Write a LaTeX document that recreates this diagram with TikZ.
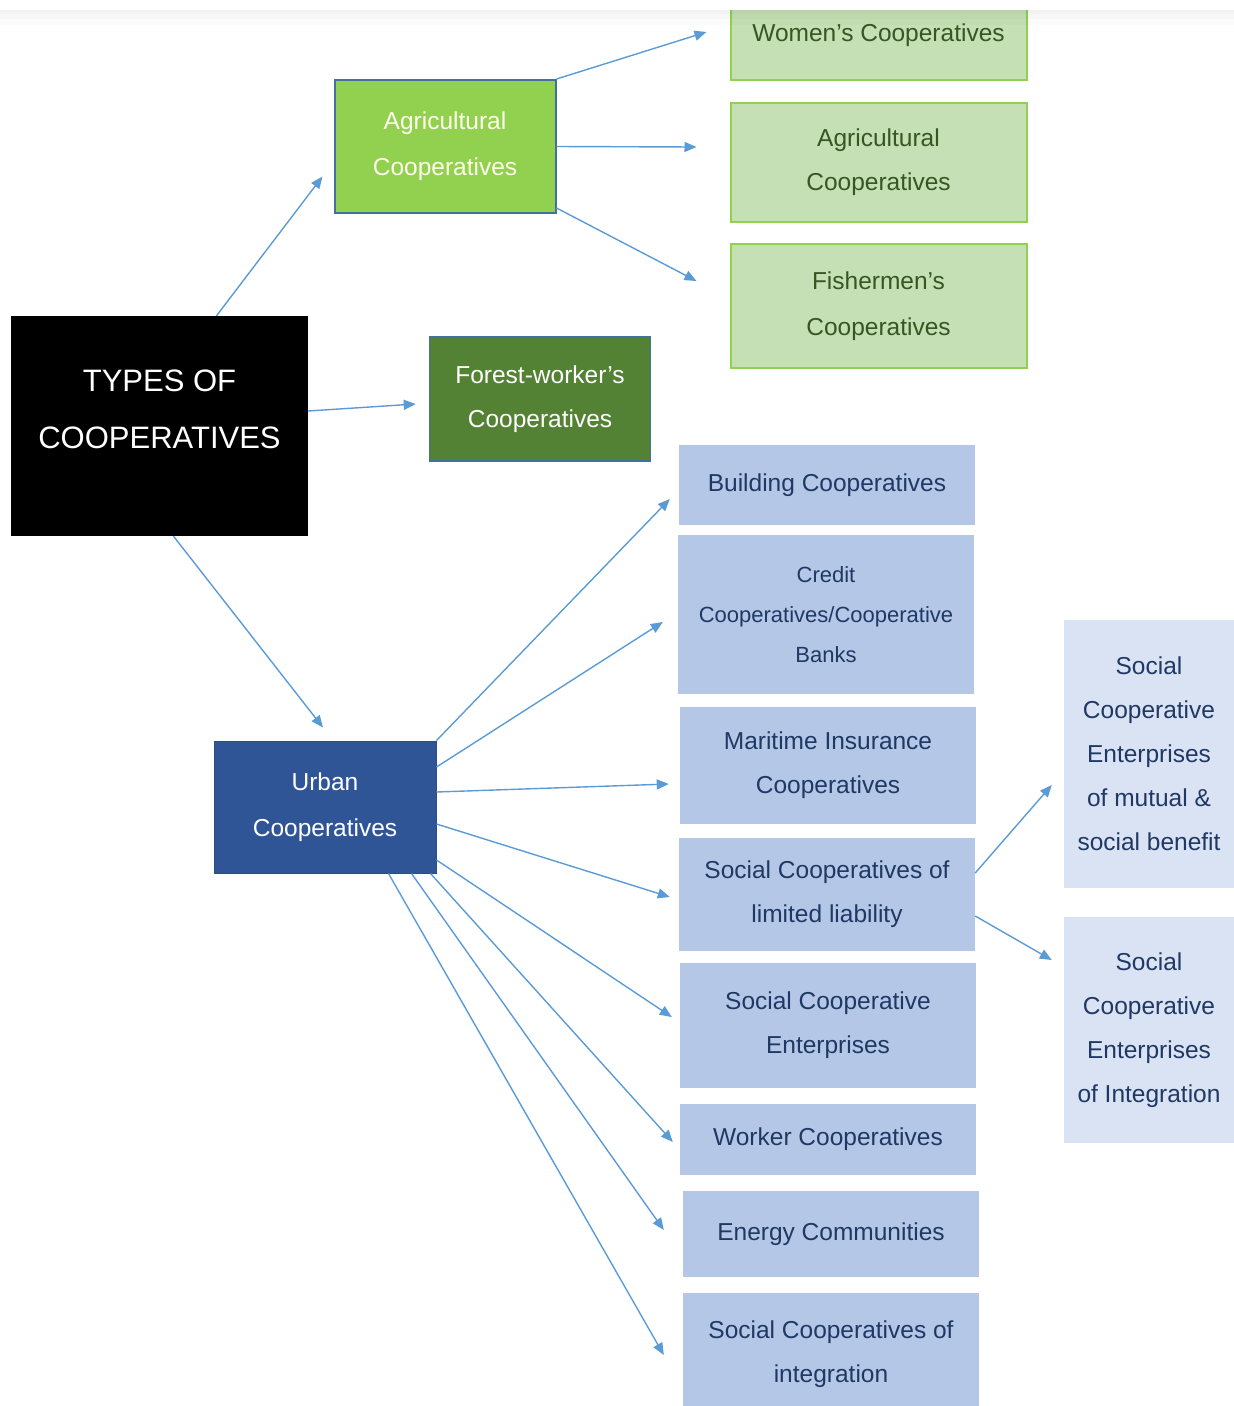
\documentclass[tikz,border=0pt]{standalone}
\usepackage{fontspec}
\setmainfont{Liberation Sans}
\usepackage{xcolor}
\usepackage{tikz}
\usetikzlibrary{arrows.meta}

\definecolor{agrigreen}{HTML}{92D050}
\definecolor{forestgreen}{HTML}{548235}
\definecolor{palegreen}{HTML}{C5E0B4}
\definecolor{greentext}{HTML}{375623}
\definecolor{frameblue}{HTML}{41719C}
\definecolor{urbanblue}{HTML}{2F5597}
\definecolor{subblue}{HTML}{B4C7E7}
\definecolor{paleblue}{HTML}{DAE3F3}
\definecolor{navytext}{HTML}{1F3864}
\definecolor{arrowblue}{HTML}{5B9BD5}

\begin{document}
\begin{tikzpicture}[
  x=1pt, y=-1pt,
  typesbox/.style={
    rectangle,
    fill=black,
    inner sep=0pt,
    minimum width=297pt,
    minimum height=220pt
  },
  typestext/.style={
    align=center,
    text=white,
    font=\fontsize{31}{57}\selectfont
  },
  agribox/.style={
    rectangle,
    fill=agrigreen,
    draw=frameblue,
    line width=2pt,
    text=white!92!yellow,
    align=center,
    inner sep=0pt,
    minimum width=221pt,
    minimum height=133pt,
    font=\fontsize{24.5}{46}\selectfont
  },
  forestbox/.style={
    rectangle,
    fill=forestgreen,
    draw=frameblue,
    line width=1.5pt,
    text=white,
    align=center,
    inner sep=0pt,
    minimum width=221pt,
    minimum height=124pt,
    font=\fontsize{24.5}{44}\selectfont
  },
  greenbox/.style={
    rectangle,
    fill=palegreen,
    draw=agrigreen,
    line width=2pt,
    text=greentext,
    align=center,
    inner sep=0pt,
    minimum width=296pt,
    font=\fontsize{24.5}{44}\selectfont
  },
  urbanbox/.style={
    rectangle,
    fill=urbanblue,
    draw=urbanblue!90!black,
    line width=1pt,
    text=white,
    align=center,
    inner sep=0pt,
    minimum width=222pt,
    minimum height=132pt,
    font=\fontsize{24.5}{46}\selectfont
  },
  bluebox/.style={
    rectangle,
    fill=subblue,
    text=navytext,
    align=center,
    inner sep=0pt,
    minimum width=296pt,
    font=\fontsize{24.5}{44}\selectfont
  },
  palebox/.style={
    rectangle,
    fill=paleblue,
    text=navytext,
    align=center,
    inner sep=0pt,
    minimum width=170pt,
    font=\fontsize{24.5}{44}\selectfont
  },
  arrow/.style={
    -{Triangle[length=12pt, width=10pt]},
    draw=arrowblue,
    line width=1.4pt
  }
]

\useasboundingbox (0,0) rectangle (1234,1406);
\clip (0,0) rectangle (1234,1406);

% =========================================================
% Root and first level
% =========================================================
\node[typesbox] (types) at (159.5,426) {};
\node[typestext] at ([yshift=17pt]types.center) {TYPES OF\\COOPERATIVES};

\node[agribox] (agri) at (445,146.5) {Agricultural\\Cooperatives};

\node[forestbox] (forest) at (540,399) {Forest-worker's\\Cooperatives};

\node[urbanbox] (urban) at (325,807) {Urban\\Cooperatives};

% =========================================================
% Agricultural branch
% =========================================================
\node[greenbox, minimum height=90pt] (women) at (878.5,35) {Women's Cooperatives};

\node[greenbox, minimum height=119pt] (agri2) at (878.5,162.5) {Agricultural\\Cooperatives};

\node[greenbox, minimum height=124pt, font=\fontsize{24.5}{46}\selectfont] (fish) at (878.5,306) {Fishermen's\\Cooperatives};

% =========================================================
% Urban branch
% =========================================================
\node[bluebox, minimum height=80pt] (building) at (827,485) {Building Cooperatives};

\node[bluebox, minimum height=159pt, font=\fontsize{22}{40}\selectfont] (credit) at (826,614.5) {Credit\\Cooperatives/Cooperative\\Banks};

\node[bluebox, minimum height=117pt] (maritime) at (828,765.5) {Maritime Insurance\\Cooperatives};

\node[bluebox, minimum height=113pt] (sclim) at (827,894.5) {Social Cooperatives of\\limited liability};

\node[bluebox, minimum height=125pt] (sce) at (828,1025.5) {Social Cooperative\\Enterprises};

\node[bluebox, minimum height=71pt] (worker) at (828,1139.5) {Worker Cooperatives};

\node[bluebox, minimum height=86pt] (energy) at (831,1234) {Energy Communities};

\node[bluebox, minimum height=122pt] (scint) at (831,1354) {Social Cooperatives of\\integration};

% =========================================================
% Social cooperative enterprises
% =========================================================
\node[palebox, minimum height=268pt] (scemut) at (1149,754) {Social\\Cooperative\\Enterprises\\of mutual \&\\social benefit};

\node[palebox, minimum height=226pt] (sceint) at (1149,1030) {Social\\Cooperative\\Enterprises\\of Integration};

% =========================================================
% Connectors
% =========================================================
\draw[arrow] ([xshift=57pt]types.north) -- ([xshift=-11pt, yshift=-30pt]agri.west);
\draw[arrow] ([yshift=15pt]types.east) -- ([xshift=-13pt, yshift=-5pt]forest.west);
\draw[arrow] ([xshift=14pt]types.south) -- ([xshift=-2pt, yshift=13pt]urban.north);

\draw[arrow] (agri.north east) -- ([xshift=-23pt, yshift=3pt]women.west);
\draw[arrow] (agri.east) -- ([xshift=-33pt, yshift=15.5pt]agri2.west);
\draw[arrow] ([yshift=6pt]agri.south east) -- ([xshift=-33pt, yshift=25pt]fish.west);

\draw[arrow] (urban.north east) -- ([xshift=-9pt, yshift=-14pt]building.west);
\draw[arrow] ([yshift=40pt]urban.east) -- ([xshift=-15pt, yshift=-7.5pt]credit.west);
\draw[arrow] ([yshift=15pt]urban.east) -- ([xshift=-11pt, yshift=-18.5pt]maritime.west);
\draw[arrow] ([yshift=-17pt]urban.east) -- ([xshift=-9pt, yshift=-2.5pt]sclim.west);
\draw[arrow] ([yshift=-53pt]urban.east) -- ([xshift=-8pt, yshift=8.5pt]sce.west);
\draw[arrow] ([xshift=-6pt]urban.south east) -- ([xshift=-7pt, yshift=-2.5pt]worker.west);
\draw[arrow] ([xshift=-25pt]urban.south east) -- ([xshift=-19pt, yshift=4pt]energy.west);
\draw[arrow] ([xshift=-48pt]urban.south east) -- ([xshift=-19pt, yshift=-1pt]scint.west);

\draw[arrow] ([yshift=21.5pt]sclim.east) -- ([xshift=-12pt, yshift=-31pt]scemut.west);
\draw[arrow] ([yshift=-21.5pt]sclim.east) -- ([xshift=-12pt, yshift=70pt]sceint.west);

% =========================================================
% Top edge of the page
% =========================================================
\fill[white] (0,0) rectangle (1234,10);
\fill[black, fill opacity=0.05] (0,10) rectangle (1234,14);
\fill[black, fill opacity=0.03] (0,14) rectangle (1234,19);
\fill[black, fill opacity=0.015] (0,19) rectangle (1234,25);

\end{tikzpicture}
\end{document}
